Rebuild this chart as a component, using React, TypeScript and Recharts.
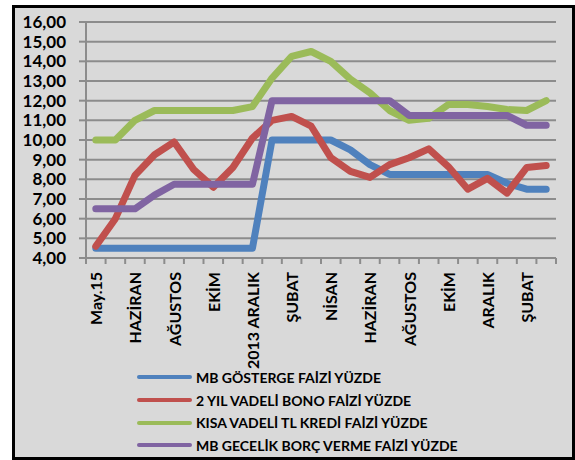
import React from 'react';
import { LineChart, Line, XAxis, YAxis, CartesianGrid, Legend } from 'recharts';

// Category labels (only every other one is printed on the axis)
const months = [
  'May.15', '', 'HAZİRAN', '', 'AĞUSTOS', '', 'EKİM', '', '2013 ARALIK', '', 'ŞUBAT', '',
  'NİSAN', '', 'HAZİRAN', '', 'AĞUSTOS', '', 'EKİM', '', 'ARALIK', '', 'ŞUBAT', '',
];

const gosterge = [4.5, 4.5, 4.5, 4.5, 4.5, 4.5, 4.5, 4.5, 4.5, 10, 10, 10, 10, 9.5, 8.75, 8.25, 8.25, 8.25, 8.25, 8.25, 8.25, 7.8, 7.5, 7.5];
const bono = [4.6, 6.0, 8.2, 9.25, 9.9, 8.5, 7.6, 8.6, 10.1, 11.0, 11.2, 10.7, 9.1, 8.4, 8.1, 8.75, 9.1, 9.55, 8.65, 7.5, 8.05, 7.3, 8.6, 8.7];
const kredi = [10, 10, 11, 11.5, 11.5, 11.5, 11.5, 11.5, 11.7, 13.15, 14.25, 14.5, 14.0, 13.1, 12.4, 11.5, 11.0, 11.1, 11.8, 11.8, 11.7, 11.55, 11.5, 12.0];
const gecelik = [6.5, 6.5, 6.5, 7.2, 7.75, 7.75, 7.75, 7.75, 7.75, 12, 12, 12, 12, 12, 12, 12, 11.25, 11.25, 11.25, 11.25, 11.25, 11.25, 10.75, 10.75];

const yTicks = [4, 5, 6, 7, 8, 9, 10, 11, 12, 13, 14, 15, 16];

const seriesNames = [
  'MB GÖSTERGE FAİZİ YÜZDE',
  '2 YIL VADELİ BONO FAİZİ YÜZDE',
  'KISA VADELİ TL KREDİ FAİZİ YÜZDE',
  'MB GECELİK BORÇ VERME FAİZİ YÜZDE',
];

const data = months.map((m, i) => ({
  i,
  gosterge: gosterge[i],
  bono: bono[i],
  kredi: kredi[i],
  gecelik: gecelik[i],
}));

// ticks at every half step: boundaries get a tick mark, even categories a label
const xTicks: number[] = [];
for (let k = -0.5; k <= months.length - 0.5; k += 0.5) xTicks.push(k);

const GRID = '#8c8c8c';
const FONT = 'Lato, "Open Sans", sans-serif';

const XTick = (props: any) => {
  const { x, y, payload } = props;
  const v = payload.value;
  if (!Number.isInteger(v)) {
    return <line x1={x} x2={x} y1={y} y2={y + 6} stroke={GRID} strokeWidth={2} />;
  }
  if (v % 2 !== 0) return null;
  return (
    <text
      transform={`translate(${x},${y + 14}) rotate(-90)`}
      textAnchor="end"
      dominantBaseline="central"
      fontFamily={FONT}
      fontWeight="bold"
      fontSize={16}
      fill="#000"
    >
      {months[v]}
    </text>
  );
};

const LegendBox = (props: any) => {
  const items = [...(props.payload || [])].sort(
    (a: any, b: any) => seriesNames.indexOf(a.value) - seriesNames.indexOf(b.value)
  );
  return (
    <div style={{ fontFamily: FONT, fontWeight: 'bold', fontSize: 14, color: '#000' }}>
      {items.map((p: any) => (
        <div key={p.value} style={{ display: 'flex', alignItems: 'center', height: 22.7 }}>
          <span style={{ display: 'inline-block', width: 55, height: 4, borderRadius: 2, background: p.color, marginRight: 4 }} />
          <span style={{ whiteSpace: 'nowrap' }}>{p.value}</span>
        </div>
      ))}
    </div>
  );
};

export default function App() {
  return (
    <div style={{ position: 'absolute', left: 0, top: 0, width: 575, height: 460 }}>
      <div
        style={{
          position: 'absolute', left: 12, top: 5, width: 563, height: 455,
          boxSizing: 'border-box', border: '3px solid #000', background: '#d9d9d9',
        }}
      />
      <div style={{ position: 'absolute', left: 0, top: 0 }}>
        <LineChart width={575} height={460} data={data} margin={{ top: 22, right: 19, left: 0, bottom: 0 }}>
          <CartesianGrid vertical={false} stroke={GRID} strokeWidth={2} />
          <XAxis
            dataKey="i"
            type="number"
            domain={[-0.5, months.length - 0.5]}
            ticks={xTicks}
            interval={0}
            tick={<XTick />}
            tickLine={false}
            tickSize={0}
            tickMargin={0}
            axisLine={{ stroke: GRID, strokeWidth: 2 }}
            height={202}
          />
          <YAxis
            domain={[4, 16]}
            ticks={yTicks}
            interval={0}
            width={86}
            tickSize={7}
            tickMargin={13}
            tickFormatter={(v: number) => v.toFixed(2).replace('.', ',')}
            tick={{ fill: '#000', fontFamily: FONT, fontWeight: 'bold', fontSize: 17 }}
            tickLine={{ stroke: GRID, strokeWidth: 2 }}
            axisLine={{ stroke: GRID, strokeWidth: 2 }}
          />
          <Legend
            layout="vertical"
            align="center"
            verticalAlign="middle"
            itemSorter={null as any}
            content={<LegendBox />}
            wrapperStyle={{ left: 137, top: 366, width: 330 }}
          />
          <Line name={seriesNames[0]} dataKey="gosterge" stroke="#4F81BD" strokeWidth={7} dot={false} strokeLinecap="round" strokeLinejoin="round" isAnimationActive={false} />
          <Line name={seriesNames[1]} dataKey="bono" stroke="#C0504D" strokeWidth={7} dot={false} strokeLinecap="round" strokeLinejoin="round" isAnimationActive={false} />
          <Line name={seriesNames[2]} dataKey="kredi" stroke="#9BBB59" strokeWidth={7} dot={false} strokeLinecap="round" strokeLinejoin="round" isAnimationActive={false} />
          <Line name={seriesNames[3]} dataKey="gecelik" stroke="#8064A2" strokeWidth={7} dot={false} strokeLinecap="round" strokeLinejoin="round" isAnimationActive={false} />
        </LineChart>
      </div>
    </div>
  );
}
